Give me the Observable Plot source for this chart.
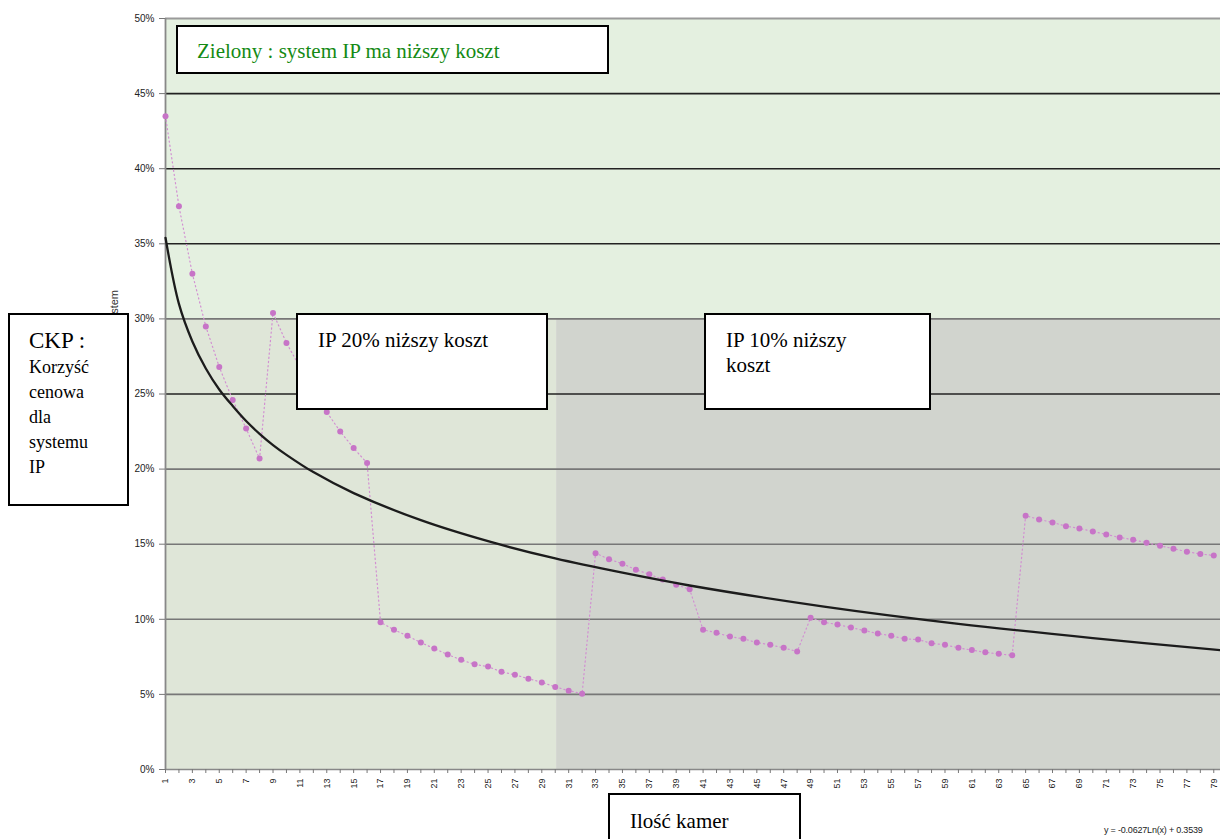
<!DOCTYPE html>
<html><head><meta charset="utf-8">
<script src="https://cdn.jsdelivr.net/npm/d3@7"></script>
<script src="https://cdn.jsdelivr.net/npm/@observablehq/plot@0.6"></script>
<style>
html,body{margin:0;padding:0;background:#fff;}
#wrap{position:relative;width:1220px;height:839px;overflow:hidden;}
.box{position:absolute;background:#fff;border:2px solid #000;box-sizing:border-box;font-family:"Liberation Serif","Times New Roman",serif;color:#000;}
.note{position:absolute;font-family:"Liberation Sans",Arial,sans-serif;color:#333;white-space:nowrap;}
</style></head><body>
<div id="wrap"></div>
<script>
// ---- data ----
const cameras = d3.range(1, 80); // 1..79 cameras
const advantage = [
  43.5, 37.5, 33.0, 29.5, 26.8, 24.6, 22.7, 20.7, 30.4, 28.4,
  26.8, 25.2, 23.8, 22.5, 21.4, 20.4, 9.8, 9.3, 8.9, 8.45,
  8.05, 7.65, 7.3, 7.0, 6.85, 6.5, 6.3, 6.05, 5.8, 5.5,
  5.25, 5.05, 14.4, 14.0, 13.7, 13.3, 13.0, 12.65, 12.3, 12.0,
  9.3, 9.1, 8.85, 8.7, 8.45, 8.3, 8.1, 7.85, 10.1, 9.8,
  9.65, 9.45, 9.25, 9.05, 8.9, 8.7, 8.65, 8.4, 8.3, 8.1,
  7.95, 7.8, 7.7, 7.6, 16.9, 16.65, 16.45, 16.2, 16.05, 15.85,
  15.65, 15.45, 15.3, 15.1, 14.9, 14.7, 14.5, 14.35, 14.25
];
// logarithmic trend line y = -0.0627 ln(x) + 0.3539
const trendX = [1, 2, 3, 4, 5, 6, 7, 8, 9, 10, 12, 15, 20, 25, 30, 35, 40, 50, 60, 70, 79.5];
const trendY = [35.4, 31.0, 28.5, 26.7, 25.3, 24.2, 23.2, 22.35, 21.6, 20.95, 19.8, 18.4, 16.6, 15.2, 14.05, 13.1, 12.25, 10.85, 9.7, 8.75, 7.95];
const trendLabel = "y = -0.0627Ln(x) + 0.3539";
// shaded zones: cameras range and advantage range
const zoneName  = ["green", "ip20", "ip10"];
const zoneFromX = [1, 1, 30.1];
const zoneToX   = [79.5, 30.1, 79.5];
const zoneLowY  = [30, 0, 0];
const zoneHighY = [50, 30, 30];
const yTicks = [0, 5, 10, 15, 20, 25, 30, 35, 40, 45, 50];
const xTicks = d3.range(1, 80);
const gridLevels = [5, 10, 15, 20, 25, 30, 35, 40, 45];

// ---- build ----
const series = cameras.map((c, i) => ({x: c, y: advantage[i]}));
const trend = trendX.map((x, i) => ({x, y: trendY[i]}));
const zoneFill = {green: "#e4f0e0", ip20: "#dfe6d8", ip10: "#d1d4ce"};
const zones = zoneName.map((n, i) => ({n, x1: zoneFromX[i], x2: zoneToX[i], y1: zoneLowY[i], y2: zoneHighY[i]}));

const chart = Plot.plot({
  width: 1220,
  height: 839,
  marginLeft: 165,
  marginRight: 0,
  marginTop: 18,
  marginBottom: 70,
  style: {fontFamily: "'Liberation Sans', Arial, sans-serif", background: "transparent", color: "#222"},
  x: {domain: [1, 79.5]},
  y: {domain: [0, 50]},
  marks: [
    Plot.rect(zones, {x1: "x1", x2: "x2", y1: "y1", y2: "y2", fill: d => zoneFill[d.n]}),
    Plot.ruleY(gridLevels, {stroke: d => (d > 30 || d === 25) ? "#222" : "#777", strokeWidth: 1.6}),
    Plot.ruleY([50], {stroke: "#9a9a9a", strokeWidth: 2}),
    Plot.ruleY([0], {stroke: "#888", strokeWidth: 1.5}),
    Plot.ruleX([1], {y1: 0, y2: 50, stroke: "#888", strokeWidth: 1.8}),
    Plot.axisY({ticks: yTicks, tickFormat: d => d + "%", tickSize: 6, tickPadding: 5, fontSize: 10, stroke: "#777"}),
    Plot.axisX({ticks: xTicks, tickFormat: d => d % 2 === 1 ? String(d) : "", tickRotate: -90, tickSize: 4, tickPadding: 5, fontSize: 9, stroke: "#777", label: null}),
    Plot.line(series, {x: "x", y: "y", stroke: "#d28fd2", strokeWidth: 1.2, strokeDasharray: "1.2,3"}),
    Plot.dot(series, {x: "x", y: "y", r: 3, fill: "#c774c7", stroke: null}),
    Plot.line(trend, {x: "x", y: "y", curve: "catmull-rom", stroke: "#1c1c1c", strokeWidth: 2.3})
  ]
});
const wrap = document.getElementById("wrap");
wrap.appendChild(chart);

function addDiv(cls, css, html) {
  const d = document.createElement("div");
  d.className = cls;
  d.style.cssText = css;
  d.innerHTML = html;
  wrap.appendChild(d);
  return d;
}
// y axis title (mostly hidden behind the CKP box, as in the reference)
addDiv("note", "left:108px;top:290px;font-size:11px;writing-mode:vertical-rl;transform:rotate(180deg);", "Korzyść cenowa dla system");
// annotation boxes
addDiv("box", "left:176px;top:25px;width:433px;height:49px;color:#148a14;font-size:21px;padding:12px 0 0 19px;", "Zielony : system IP ma niższy koszt");
addDiv("box", "left:296px;top:313px;width:252px;height:97px;font-size:21px;padding:13px 0 0 20px;", "IP 20% niższy koszt");
addDiv("box", "left:704px;top:313px;width:227px;height:97px;font-size:21px;line-height:25px;padding:13px 0 0 20px;", "IP 10% niższy<br>koszt");
addDiv("box", "left:8px;top:313px;width:121px;height:193px;font-size:18px;line-height:25px;padding:12px 0 0 19px;", "<span style='font-size:23px;line-height:28px'>CKP :</span><br>Korzyść<br>cenowa<br>dla<br>systemu<br>IP");
addDiv("box", "left:608px;top:793px;width:193px;height:60px;font-size:21px;padding:14px 0 0 20px;", "Ilość kamer");
addDiv("note", "left:1104px;top:825px;font-size:9px;color:#222;letter-spacing:-0.2px;", trendLabel);
</script>
</body></html>
